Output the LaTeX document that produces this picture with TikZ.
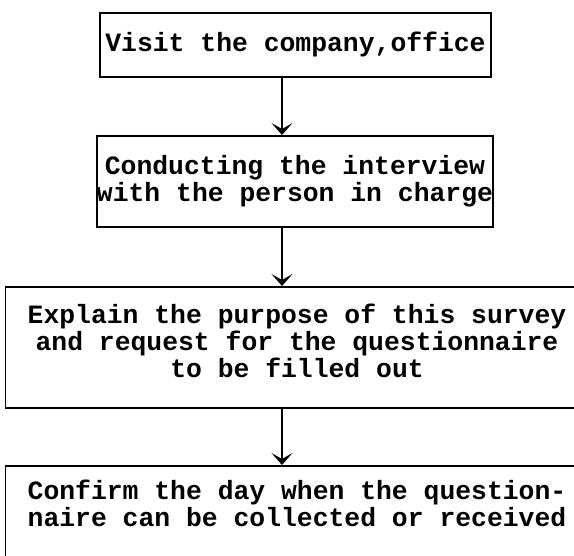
\documentclass[tikz,border=0pt]{standalone}
\usepackage{fontspec}
\setmonofont{Liberation Mono}
\usetikzlibrary{arrows.meta}
\tikzset{
  stepbox/.style={draw, line width=1.6pt, align=center, inner sep=0pt, anchor=north,
    font=\ttfamily\bfseries\fontsize{26.4}{27}\selectfont},
  flow/.style={line width=1.4pt, -{Stealth[length=12pt,width=21pt,inset=6pt]}}
}
\begin{document}
\begin{tikzpicture}[x=1pt,y=-1pt]
\clip (0,0) rectangle (574,556);
\fill[white] (0,0) rectangle (574,556);
\coordinate (ax) at (282,0);
\node[stepbox, minimum width=391pt, minimum height=64pt] (box1) at (295.5,12)
  {Visit the company,office};
\node[stepbox, minimum width=390pt, minimum height=91pt] (box2) at (295,135)
  {Conducting the interview\\with the person in charge};
\node[stepbox, minimum width=583pt, minimum height=121pt, text depth=14pt, inner ysep=12pt] (box3) at (297,286)
  {Explain the purpose of this survey\\and request for the questionnaire\\to be filled out};
\node[stepbox, minimum width=583pt, text depth=90pt, inner ysep=14pt] (box4) at (297,465)
  {Confirm the day when the question-\\naire can be collected or received};
\draw[flow] (box1.south -| ax) -- (box2.north -| ax);
\draw[flow] (box2.south -| ax) -- (box3.north -| ax);
\draw[flow] (box3.south -| ax) -- (box4.north -| ax);
\end{tikzpicture}
\end{document}
